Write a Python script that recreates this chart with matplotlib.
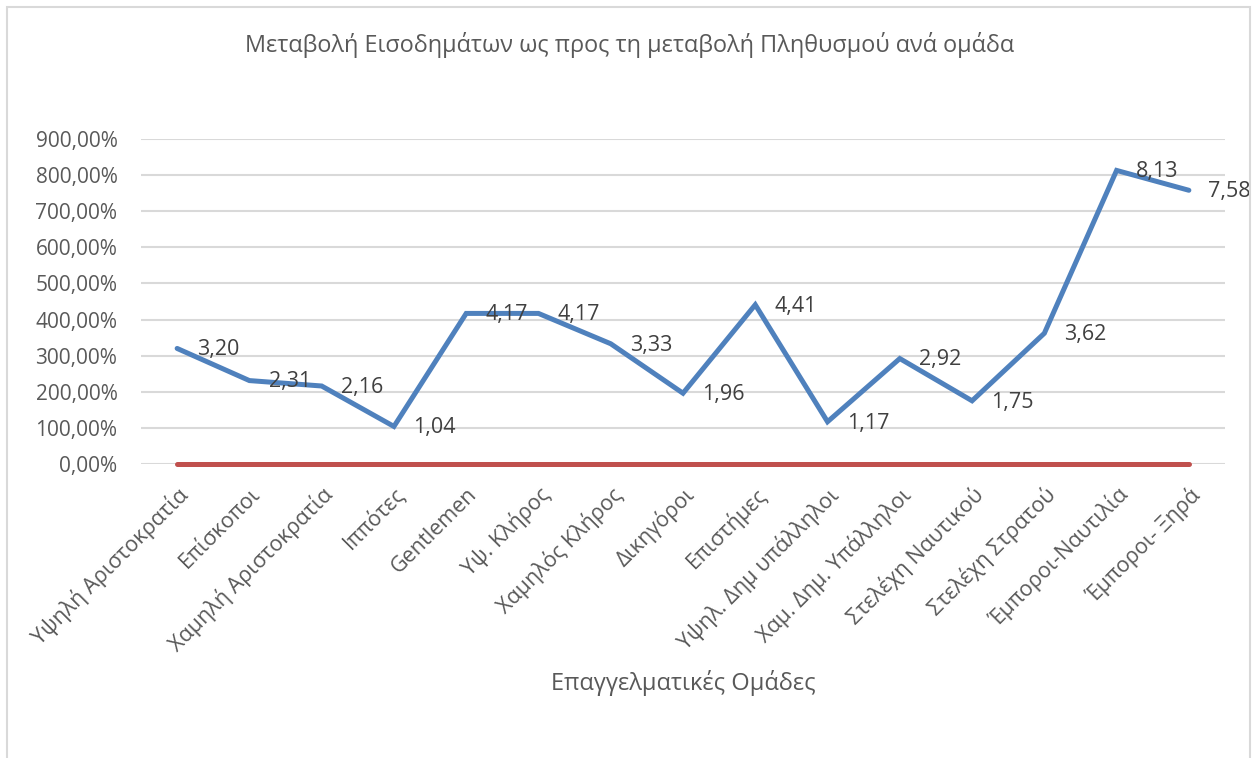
"""Income change vs population change per occupational group (Excel-style line chart)."""

import matplotlib.pyplot as plt
from matplotlib.patches import Rectangle
from matplotlib.ticker import FuncFormatter, MultipleLocator

plt.rcParams["font.family"] = ["Open Sans", "DejaVu Sans"]

TITLE = "Μεταβολή Εισοδημάτων ως προς τη μεταβολή Πληθυσμού ανά ομάδα"
XLABEL = "Επαγγελματικές Ομάδες"

groups = [
    "Υψηλή Αριστοκρατία",
    "Επίσκοποι",
    "Χαμηλή Αριστοκρατία",
    "Ιππότες",
    "Gentlemen",
    "Υψ. Κλήρος",
    "Χαμηλός Κλήρος",
    "Δικηγόροι",
    "Επιστήμες",
    "Υψηλ. Δημ υπάλληλοι",
    "Χαμ. Δημ. Υπάλληλοι",
    "Στελέχη Ναυτικού",
    "Στελέχη Στρατού",
    "Έμποροι-Ναυτιλία",
    "Έμποροι- Ξηρά",
]
ratio = [3.20, 2.31, 2.16, 1.04, 4.17, 4.17, 3.33, 1.96, 4.41, 1.17, 2.92, 1.75, 3.62, 8.13, 7.58]
baseline = [0.0] * len(groups)

BLUE = "#4F81BD"
RED = "#C0504D"
TEXT = "#595959"
LABEL = "#404040"
GRID = "#D9D9D9"


def pct(v, _pos):
    return f"{v:.2f}".replace(".", ",") + "%"


def main() -> None:
    fig = plt.figure(figsize=(12.6, 7.58), dpi=100)
    fig.patches.append(
        Rectangle((7 / 1260, -0.05), 1243 / 1260, 1.05 - 7 / 758,
                  transform=fig.transFigure, fill=False, edgecolor=GRID, lw=1.5)
    )
    ax = fig.add_axes([141 / 1260, 1 - 464 / 758, 1084 / 1260, 325 / 758])

    x = list(range(len(groups)))
    values = [r * 100 for r in ratio]
    ax.plot(x, baseline, color=RED, lw=3.6, solid_capstyle="round",
            zorder=3, clip_on=False)
    ax.plot(x, values, color=BLUE, lw=3.6, solid_capstyle="round",
            solid_joinstyle="miter", zorder=4, clip_on=False)
    for xi, v, r in zip(x, values, ratio):
        ax.annotate(f"{r:.2f}".replace(".", ","), (xi, v), xytext=(14, -1),
                    textcoords="offset points", ha="left", va="center",
                    fontsize=15.5, color=LABEL, zorder=5)

    ax.set_xlim(-0.5, len(groups) - 0.5)
    ax.set_ylim(0, 900)
    ax.yaxis.set_major_locator(MultipleLocator(100))
    ax.yaxis.set_major_formatter(FuncFormatter(pct))
    ax.grid(axis="y", color=GRID, lw=1.5, zorder=0)
    ax.set_axisbelow(True)
    for s in ax.spines.values():
        s.set_visible(False)
    ax.tick_params(length=0, colors=TEXT)
    ax.tick_params(axis="y", pad=17, labelsize=15)
    ax.set_xticks(x)
    ax.set_xticklabels(groups, rotation=45, ha="right", rotation_mode="anchor",
                       fontsize=15.5, color=TEXT)
    ax.tick_params(axis="x", pad=14)

    fig.text(0.5, 1 - 45 / 758, TITLE, ha="center", va="center",
             fontsize=16.9, color=TEXT)
    fig.text(683 / 1260, 1 - 683 / 758, XLABEL, ha="center", va="center",
             fontsize=17, color=TEXT)

    fig.savefig("out.png", dpi=100, facecolor="white")
    plt.close(fig)


if __name__ == "__main__":
    main()
